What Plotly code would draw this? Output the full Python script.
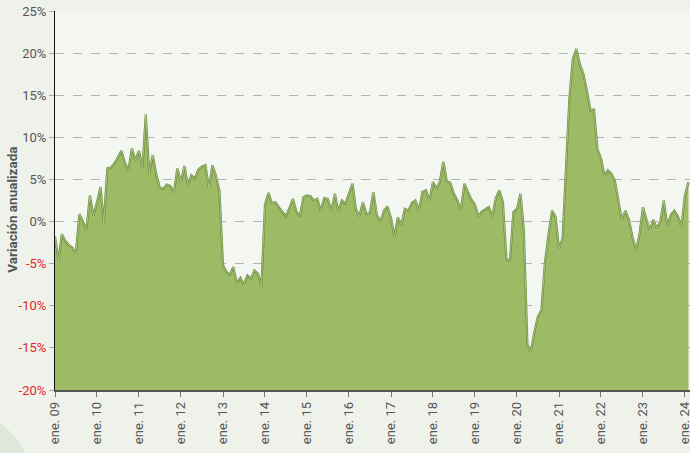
import pandas as pd
import plotly.graph_objects as go

# Monthly annualised variation (%), Jan 2009 .. Feb 2024
v2009 = [-1.8, -4.6, -1.5, -2.3, -2.8, -3.1, -3.8, 0.9, 0.0, -1.0, 3.1, 0.7]
v2010 = [2.3, 4.1, -0.2, 6.3, 6.4, 6.9, 7.6, 8.4, 7.0, 6.1, 8.7, 7.3]
v2011 = [8.4, 6.3, 12.7, 5.7, 7.9, 5.6, 4.0, 3.9, 4.4, 4.2, 3.5, 6.3]
v2012 = [4.7, 6.6, 4.3, 5.5, 5.1, 6.2, 6.5, 6.7, 3.9, 6.7, 5.4, 3.6]
v2013 = [-5.2, -6.0, -6.3, -5.4, -7.3, -6.7, -7.5, -6.4, -6.8, -5.8, -6.2, -7.7]
v2014 = [2.0, 3.4, 2.2, 2.3, 1.7, 1.2, 0.6, 1.6, 2.7, 1.2, 0.6, 2.9]
v2015 = [3.1, 3.0, 2.5, 2.7, 1.3, 2.8, 2.7, 1.3, 3.3, 1.2, 2.5, 2.1]
v2016 = [3.3, 4.5, 1.5, 0.6, 2.3, 0.9, 1.0, 3.5, 0.7, 0.0, 1.3, 1.8]
v2017 = [0.4, -1.8, 0.5, -0.4, 1.5, 1.3, 2.2, 2.5, 1.3, 3.5, 3.7, 2.5]
v2018 = [4.7, 3.9, 4.7, 7.1, 4.8, 4.6, 3.3, 2.5, 1.4, 4.5, 3.5, 2.6]
v2019 = [2.0, 0.6, 1.2, 1.5, 1.7, 0.6, 2.8, 3.7, 2.3, -4.4, -4.7, 1.1]
v2020 = [1.5, 3.3, -1.0, -14.6, -15.4, -13.1, -11.3, -10.5, -4.8, -1.6, 1.3, 0.6]
v2021 = [-3.2, -2.0, 5.9, 14.6, 19.3, 20.5, 18.7, 17.5, 15.5, 13.2, 13.3, 8.6]
v2022 = [7.5, 5.4, 6.1, 5.7, 4.9, 2.3, 0.2, 1.3, 0.2, -1.8, -3.4, -1.6]
v2023 = [1.7, 0.2, -1.0, 0.2, -0.8, 0.0, 2.5, -0.5, 0.8, 1.3, 0.6, -0.6]
v2024 = [3.1, 4.7]

values = (v2009 + v2010 + v2011 + v2012 + v2013 + v2014 + v2015 + v2016 +
          v2017 + v2018 + v2019 + v2020 + v2021 + v2022 + v2023 + v2024)
dates = pd.date_range("2009-01-01", periods=len(values), freq="MS")

y_ticks = [-20, -15, -10, -5, 0, 5, 10, 15, 20, 25]
x_tick_years = list(range(2009, 2025))
x_tick_labels = [f"ene. {y % 100:02d}" for y in x_tick_years]

Y_MIN, Y_MAX = -20, 25

y_ticktext = [
    (f"<span style='color:#e8232a'>{t}%</span>" if t < 0 else f"{t}%")
    for t in y_ticks
]

fig = go.Figure()
fig.add_trace(go.Scatter(
    x=dates, y=[Y_MIN] * len(values), mode="lines",
    line=dict(width=0, color="rgba(0,0,0,0)"), hoverinfo="skip", showlegend=False,
))
fig.add_trace(go.Scatter(
    x=dates, y=values, mode="lines", fill="tonexty",
    fillcolor="#9cbb64", line=dict(color="#6b8c3b", width=2.2),
    showlegend=False,
))
fig.add_trace(go.Scatter(
    x=dates, y=values, mode="lines",
    line=dict(color="#c2d69d", width=0.7), showlegend=False, hoverinfo="skip",
))

font_family = "Roboto, DejaVu Sans, sans-serif"

fig.update_layout(
    width=690, height=453,
    margin=dict(l=55, r=0, t=11, b=63),
    paper_bgcolor="#eef2eb",
    plot_bgcolor="#f4f6f2",
    font=dict(family=font_family, size=13, color="#555555"),
    xaxis=dict(
        range=["2009-01-01", "2024-02-14"],
        tickvals=[pd.Timestamp(f"{y}-01-01") for y in x_tick_years],
        ticktext=x_tick_labels,
        tickangle=-90,
        ticks="outside", ticklen=5, tickcolor="#777777",
        showline=True, linecolor="#555555", linewidth=1.5,
        showgrid=False, zeroline=False, automargin=False,
        ticklabeloverflow="allow",
        tickfont=dict(size=13, color="#555555"),
    ),
    yaxis=dict(
        range=[Y_MIN, Y_MAX],
        tickvals=y_ticks, ticktext=y_ticktext,
        ticks="outside", ticklen=5, tickcolor="#aaaaaa",
        showline=True, linecolor="#111111", linewidth=1.2,
        showgrid=True, gridcolor="#b3b3b3", gridwidth=1, griddash="dash",
        zeroline=False, automargin=False,
        tickfont=dict(size=13, color="#555555"),
    ),
    annotations=[dict(
        text="<b>Variación anualizada</b>", textangle=-90,
        xref="paper", yref="paper", x=-0.068, y=0.475,
        xanchor="center", yanchor="middle", showarrow=False,
        font=dict(size=13.5, color="#555555", family=font_family),
    )],
    shapes=[dict(
        type="circle", xref="paper", yref="paper", layer="below",
        x0=-0.335, x1=-0.027, y0=-0.549, y1=-0.032,
        fillcolor="#dfe8d8", line=dict(width=0),
    )],
)

fig.write_html(
    "out.html",
    config={"displayModeBar": False},
    post_script="document.body.style.margin='0';document.body.style.overflow='hidden';",
)
